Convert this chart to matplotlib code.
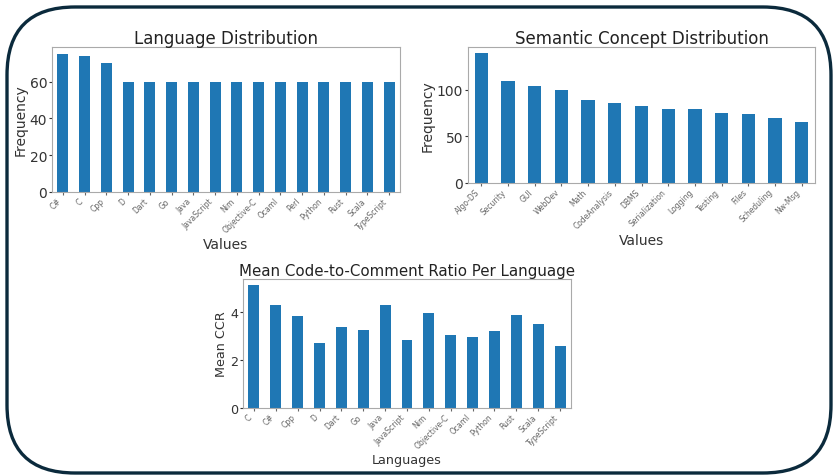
import numpy as np
import matplotlib
matplotlib.use('Agg')
import matplotlib.pyplot as plt
from matplotlib.patches import FancyBboxPatch

# --- Data ---
lang_names = ["C#", "C", "Cpp", "D", "Dart", "Go", "Java", "JavaScript", "Nim",
              "Objective-C", "Ocaml", "Perl", "Python", "Rust", "Scala", "TypeScript"]
lang_freq = [75, 74, 70, 60, 60, 60, 60, 60, 60, 60, 60, 60, 60, 60, 60, 60]

concept_names = ["Algo-DS", "Security", "GUI", "WebDev", "Math", "CodeAnalysis", "DBMS",
                 "Serialization", "Logging", "Testing", "Files", "Scheduling", "Nw-Msg"]
concept_freq = [139, 109, 104, 100, 89, 86, 83, 79, 79, 75, 74, 70, 65]

ccr_langs = ["C", "C#", "Cpp", "D", "Dart", "Go", "Java", "JavaScript", "Nim",
             "Objective-C", "Ocaml", "Python", "Rust", "Scala", "TypeScript"]
ccr_mean = [5.1, 4.28, 3.80, 2.71, 3.35, 3.25, 4.27, 2.81, 3.94,
            3.02, 2.95, 3.20, 3.88, 3.48, 2.59]

BAR = '#1f77b4'
W, H = 833, 477

fig = plt.figure(figsize=(W / 100, H / 100), dpi=100, facecolor='white')


def px_axes(left, top, right, bottom):
    return fig.add_axes([left / W, (H - bottom) / H, (right - left) / W, (bottom - top) / H])


def bar_panel(ax, names, vals, title, xlabel, ylabel, yticks,
              title_size=12, label_size=10):
    x = np.arange(len(names))
    ax.bar(x, vals, width=0.5, color=BAR)
    ax.set_xlim(-0.5, len(names) - 0.5)
    ax.set_ylim(0, max(vals) * 1.05)
    ax.set_xticks(x)
    ax.set_xticklabels(names, rotation=45, ha='right', fontsize=5.5, color='#444444')
    ax.set_yticks(yticks)
    ax.tick_params(axis='y', labelsize=label_size, colors='#333333', length=2, pad=1.5)
    ax.tick_params(axis='x', length=2, pad=1, colors='#666666')
    ax.set_title(title, fontsize=title_size, color='#222222', pad=3)
    ax.set_xlabel(xlabel, fontsize=label_size, color='#333333', labelpad=2)
    ax.set_ylabel(ylabel, fontsize=label_size, color='#333333', labelpad=1.5)
    for s in ax.spines.values():
        s.set_color('#aaaaaa')
        s.set_linewidth(0.8)


ax1 = px_axes(52, 48, 400, 193)
bar_panel(ax1, lang_names, lang_freq, 'Language Distribution', 'Values', 'Frequency',
          [0, 20, 40, 60])

ax2 = px_axes(468, 48, 815, 184)
bar_panel(ax2, concept_names, concept_freq, 'Semantic Concept Distribution', 'Values',
          'Frequency', [0, 50, 100])

ax3 = px_axes(243, 280, 571, 409)
bar_panel(ax3, ccr_langs, ccr_mean, 'Mean Code-to-Comment Ratio Per Language', 'Languages',
          'Mean CCR', [0, 2, 4], title_size=10.8, label_size=9.2)

# rounded frame around the whole figure
frame = FancyBboxPatch((0.07, 0.03), 8.24, 4.66,
                       boxstyle='round,pad=0,rounding_size=0.68',
                       transform=fig.dpi_scale_trans, fill=False,
                       edgecolor='#0b2a3c', linewidth=2.4)
fig.patches.append(frame)

fig.savefig('out.png', dpi=100, facecolor='white')
